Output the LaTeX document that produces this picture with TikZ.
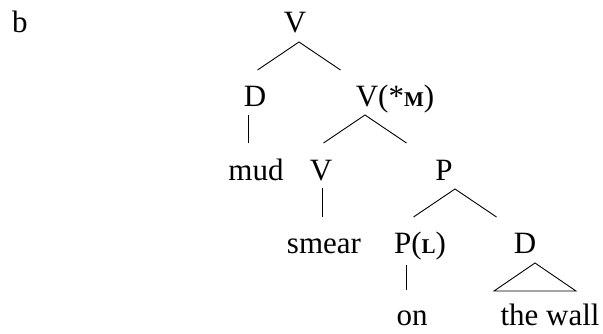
\documentclass[tikz,border=0pt]{standalone}
\usepackage{fontspec}
\setmainfont{Liberation Serif}
\usetikzlibrary{positioning}
\newcommand{\feat}[1]{{\fontsize{21}{21}\selectfont\bfseries #1}}
\begin{document}
\begin{tikzpicture}[x=1pt,y=-1pt,
  lab/.style={inner sep=0pt,anchor=base,font=\fontsize{31}{31}\selectfont},
  edge/.style={line width=0.9pt}]
  \useasboundingbox (0,0) rectangle (603,333);
  % labels
  \node[lab] (ex) at (20,32) {b};
  \node[lab] (v0) at (295,32) {V};
  \node[lab] (d1) at (255,106) {D};
  \node[lab] (v1) at (395,106) {V(*\feat{M})};
  \node[lab] (mud) at (256,180) {mud};
  \node[lab] (v2) at (321,180) {V};
  \node[lab] (p1) at (444,180) {P};
  \node[lab] (smear) at (324,253) {smear};
  \node[lab] (p2) at (420,253) {P(\feat{L})};
  \node[lab] (d2) at (525,253) {D};
  \node[lab] (on) at (412,325) {on};
  \node[lab] (wall) at (550,325) {the wall};
  % branching points
  \coordinate (f0) at (299,42);
  \coordinate (f1) at (365,115);
  \coordinate (f2) at (455,189);
  \foreach \f in {f0,f1,f2}
    \draw[edge] (\f) +(-41.5,28) -- (\f) -- +(41.5,28);
  % single lines
  \draw[edge] (248,115) -- (248,143);
  \draw[edge] (322,188) -- (322,217);
  \draw[edge] (406,265) -- (406,290);
  % triangle
  \draw[edge] (535,263) -- (576,291) -- (494,291) -- cycle;
\end{tikzpicture}
\end{document}
